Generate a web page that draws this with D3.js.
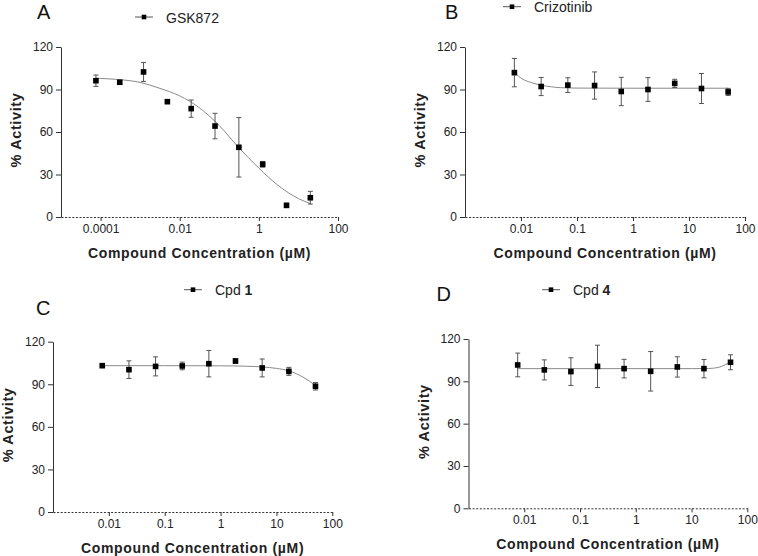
<!DOCTYPE html>
<html>
<head>
<meta charset="utf-8">
<script src="https://cdn.jsdelivr.net/npm/d3@7"></script>
<style>
  body { margin: 0; background: #fff; }
  svg { font-family: "Liberation Sans", Arial, sans-serif; }
</style>
</head>
<body>
<div id="main"></div>
<script>
// concentrations (uM) - 4-fold series for A, 3-fold series for B-D
var concA = [0.0000763, 0.000305, 0.00122, 0.00488, 0.0195, 0.078, 0.3125, 1.25, 5, 20];
var actA  = [96.2, 95.1, 102.4, 81.4, 76.5, 64.2, 49.2, 37.2, 8.2, 13.6];
var errA  = [4, 1.5, 6.7, 1, 6.1, 9, 21, 2, 1.5, 4.5];
var fitConcA = [0.0000763, 0.0001, 0.0003, 0.001, 0.003, 0.01, 0.03, 0.1, 0.3, 1, 3, 10, 20];
var fitActA  = [98, 97.8, 97, 95, 91, 85.5, 77.5, 64.5, 49.5, 34.5, 22.5, 13, 9.5];

var concB = [0.00762, 0.0229, 0.0686, 0.206, 0.617, 1.85, 5.56, 16.7, 50];
var actB  = [101.9, 92.1, 93.1, 92.8, 88.6, 90, 94.3, 90.7, 88.3];
var errB  = [10, 6.4, 5.2, 9.6, 10, 8.4, 2.9, 10.6, 2.5];
var fitConcB = [0.00762, 0.0105, 0.015, 0.023, 0.035, 0.05, 0.1, 1, 50];
var fitActB  = [102, 97.5, 95, 93, 91.9, 91.3, 91, 90.9, 90.9];

var concC = [0.00762, 0.0229, 0.0686, 0.206, 0.617, 1.85, 5.56, 16.7, 50];
var actC  = [103.1, 100.3, 102.6, 102.9, 104.5, 106.4, 101.5, 99.1, 88.6];
var errC  = [0.8, 6.2, 6.7, 2.7, 9.3, 1.6, 6.3, 2.8, 2.6];
var fitConcC = [0.00762, 0.1, 1, 3, 5.6, 10, 17, 30, 50];
var fitActC  = [103.1, 103.1, 103, 102.7, 102.2, 101.2, 99.4, 95, 89.3];

var concD = [0.00762, 0.0229, 0.0686, 0.206, 0.617, 1.85, 5.56, 16.7, 50];
var actD  = [101.6, 98.1, 96.9, 100.6, 99, 97.1, 100.2, 99, 103.5];
var errD  = [8.4, 7.1, 9.8, 15, 6.6, 14, 7.2, 6.5, 5.3];
var fitConcD = [0.00762, 10, 20, 30, 40, 50];
var fitActD  = [99, 99, 99.1, 99.8, 101.8, 103.5];

var yTicks = [0, 30, 60, 90, 120];
var xTicksA = [0.0001, 0.01, 1, 100];
var xTicksBCD = [0.01, 0.1, 1, 10, 100];
var xTickLabels = { 0.0001: "0.0001", 0.01: "0.01", 0.1: "0.1", 1: "1", 10: "10", 100: "100" };

var panels = [
  { letter: "A", name: "GSK872", bold: "", conc: concA, act: actA, err: errA, fx: fitConcA, fy: fitActA,
    xDomain: [0.00001, 100], xTicks: xTicksA,
    left: 61, right: 338, top: 47, bottom: 217,
    letterX: 37, letterY: 18.5, legX: 135, legY: 17, legTextY: 22.5 },
  { letter: "B", name: "Crizotinib", bold: "", conc: concB, act: actB, err: errB, fx: fitConcB, fy: fitActB,
    xDomain: [0.001, 100], xTicks: xTicksBCD,
    left: 465, right: 745, top: 47, bottom: 217,
    letterX: 445, letterY: 18.5, legX: 503, legY: 6.7, legTextY: 11.5 },
  { letter: "C", name: "Cpd ", bold: "1", conc: concC, act: actC, err: errC, fx: fitConcC, fy: fitActC,
    xDomain: [0.001, 100], xTicks: xTicksBCD,
    left: 53, right: 332.3, top: 341.7, bottom: 512,
    letterX: 36, letterY: 315, legX: 184, legY: 289.7, legTextY: 294.7 },
  { letter: "D", name: "Cpd ", bold: "4", conc: concD, act: actD, err: errD, fx: fitConcD, fy: fitActD,
    xDomain: [0.001, 100], xTicks: xTicksBCD,
    left: 468.5, right: 747.3, top: 339, bottom: 508.3,
    letterX: 436.5, letterY: 301, legX: 542, legY: 289.7, legTextY: 294.7 }
];

var svg = d3.select("#main").append("svg")
  .attr("width", 758)
  .attr("height", 556);

panels.forEach(function(p) {
  var x = d3.scaleLog().domain(p.xDomain).range([p.left, p.right]);
  var y = d3.scaleLinear().domain([0, 120]).range([p.bottom, p.top]);
  var g = svg.append("g");

  // y axis
  var yAxis = g.append("g")
    .attr("transform", "translate(" + p.left + ",0)")
    .call(d3.axisLeft(y).tickValues(yTicks).tickSize(5).tickPadding(3).tickSizeOuter(0));
  yAxis.select(".domain").attr("stroke", "#333");
  yAxis.selectAll(".tick line").attr("stroke", "#333");
  yAxis.selectAll(".tick text").attr("font-size", 12).attr("fill", "#222")
    .attr("font-family", "Liberation Sans, Arial, sans-serif");

  // x axis, dotted baseline
  var xAxis = g.append("g")
    .attr("transform", "translate(0," + p.bottom + ")")
    .call(d3.axisBottom(x).tickValues(p.xTicks).tickSize(4).tickPadding(3).tickSizeOuter(0)
      .tickFormat(function(d) { return xTickLabels[d]; }));
  xAxis.select(".domain").attr("stroke", "#333").attr("stroke-dasharray", "2,1.6");
  xAxis.selectAll(".tick line").attr("stroke", "#333");
  xAxis.selectAll(".tick text").attr("font-size", 12).attr("fill", "#222")
    .attr("font-family", "Liberation Sans, Arial, sans-serif");

  // axis titles
  g.append("text")
    .attr("x", (p.left + p.right) / 2)
    .attr("y", p.bottom + 41)
    .attr("text-anchor", "middle")
    .attr("font-size", 14)
    .attr("font-weight", "bold")
    .attr("letter-spacing", 0.65)
    .attr("fill", "#222")
    .text("Compound Concentration (\u00b5M)");

  g.append("text")
    .attr("transform", "translate(" + (p.left - 40) + "," + ((p.top + p.bottom) / 2 - 2) + ") rotate(-90)")
    .attr("text-anchor", "middle")
    .attr("font-size", 14.5)
    .attr("font-weight", "bold")
    .attr("letter-spacing", 0.6)
    .attr("fill", "#222")
    .text("% Activity");

  // fitted curve
  var pts = p.fx.map(function(c, i) { return [x(c), y(p.fy[i])]; });
  g.append("path")
    .attr("d", d3.line().curve(d3.curveMonotoneX)(pts))
    .attr("fill", "none")
    .attr("stroke", "#8a8a8a")
    .attr("stroke-width", 1);

  // error bars
  var bars = g.selectAll(".err").data(p.conc).enter().append("g");
  bars.append("line")
    .attr("x1", function(d) { return x(d); })
    .attr("x2", function(d) { return x(d); })
    .attr("y1", function(d, i) { return y(p.act[i] + p.err[i]); })
    .attr("y2", function(d, i) { return y(p.act[i] - p.err[i]); })
    .attr("stroke", "#555").attr("stroke-width", 1);
  [1, -1].forEach(function(s) {
    bars.append("line")
      .attr("x1", function(d) { return x(d) - 2.5; })
      .attr("x2", function(d) { return x(d) + 2.5; })
      .attr("y1", function(d, i) { return y(p.act[i] + s * p.err[i]); })
      .attr("y2", function(d, i) { return y(p.act[i] + s * p.err[i]); })
      .attr("stroke", "#555").attr("stroke-width", 1);
  });

  // points
  g.selectAll(".pt").data(p.conc).enter().append("rect")
    .attr("x", function(d) { return x(d) - 2.8; })
    .attr("y", function(d, i) { return y(p.act[i]) - 2.8; })
    .attr("width", 5.6)
    .attr("height", 5.6)
    .attr("fill", "#000");

  // panel letter
  g.append("text")
    .attr("x", p.letterX)
    .attr("y", p.letterY)
    .attr("font-size", 20)
    .attr("fill", "#111")
    .text(p.letter);

  // legend
  g.append("line")
    .attr("x1", p.legX).attr("x2", p.legX + 18)
    .attr("y1", p.legY).attr("y2", p.legY)
    .attr("stroke", "#555").attr("stroke-width", 1);
  g.append("rect")
    .attr("x", p.legX + 9 - 2.3).attr("y", p.legY - 2.3)
    .attr("width", 4.6).attr("height", 4.6)
    .attr("fill", "#000");
  var lt = g.append("text")
    .attr("x", p.legX + 31)
    .attr("y", p.legTextY)
    .attr("font-size", 14)
    .attr("fill", "#222")
    .text(p.name);
  if (p.bold) {
    lt.append("tspan").attr("font-weight", "bold").text(p.bold);
  }
});
</script>
</body>
</html>
